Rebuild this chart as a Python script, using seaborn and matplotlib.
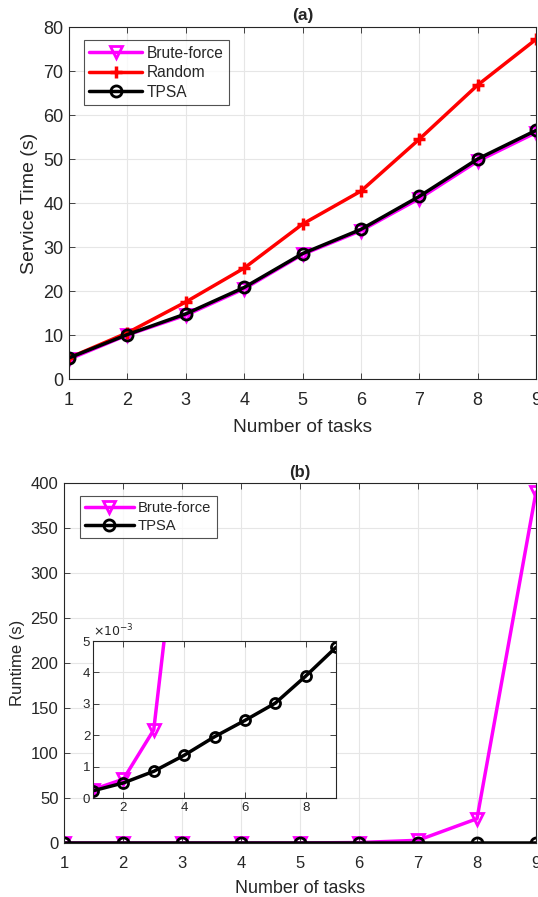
import numpy as np
import pandas as pd
import matplotlib
matplotlib.use("Agg")
import matplotlib.pyplot as plt
import seaborn as sns

tasks = [1, 2, 3, 4, 5, 6, 7, 8, 9]
svc_brute = [4.5, 10.0, 14.5, 20.5, 28.3, 33.7, 41.0, 49.5, 56.0]
svc_random = [4.8, 10.5, 17.5, 25.2, 35.2, 42.7, 54.5, 66.8, 77.2]
svc_tpsa = [4.8, 10.1, 14.8, 20.8, 28.5, 34.0, 41.5, 50.0, 56.5]

rt_brute = [0.00027, 0.0006, 0.00217, 0.0105, 0.06, 0.5, 3.0, 27.0, 390.0]
rt_tpsa = [0.00023, 0.00048, 0.00085, 0.00136, 0.00195, 0.00247, 0.00302, 0.00388, 0.0048]

sns.set_theme(style="whitegrid")
plt.rcParams['font.family'] = ['Liberation Sans', 'DejaVu Sans']
plt.rcParams['xtick.direction'] = 'in'
plt.rcParams['ytick.direction'] = 'in'

MAG = '#ff00ff'
RED = '#ff0000'
BLK = '#000000'

fig = plt.figure(figsize=(5.38, 8.97), dpi=100)
W, H = 538, 897
ax1 = fig.add_axes([69 / W, 1 - 379 / H, (536 - 69) / W, (379 - 27) / H])
ax2 = fig.add_axes([64 / W, 1 - 843 / H, (536 - 64) / W, (843 - 483) / H])
ax3 = fig.add_axes([93 / W, 1 - 798 / H, (336 - 93) / W, (798 - 641) / H])

def style(ax, fs=11, xpad=4):
    ax.set_facecolor('white')
    ax.grid(True, color='#e6e6e6', linewidth=0.8)
    for s in ax.spines.values():
        s.set_color('#262626')
        s.set_linewidth(0.8)
        s.set_visible(True)
    ax.tick_params(axis='both', which='both', direction='in', length=4, width=0.6,
                   colors='#262626', labelsize=fs, top=True, right=True,
                   bottom=True, left=True, labeltop=False, labelright=False, pad=4)
    ax.tick_params(axis='x', pad=xpad)

df1 = pd.DataFrame({
    'tasks': tasks * 3,
    'val': svc_brute + svc_random + svc_tpsa,
    'method': ['Brute-force'] * 9 + ['Random'] * 9 + ['TPSA'] * 9,
})

for m in ['Brute-force', 'Random', 'TPSA']:
    d = df1[df1.method == m]
    if m == 'Random':
        sns.lineplot(data=d, x='tasks', y='val', ax=ax1, color=RED, linewidth=2.5,
                     marker='+', markersize=8, markeredgewidth=2.5, markeredgecolor=RED,
                     label=m)
    elif m == 'Brute-force':
        sns.lineplot(data=d, x='tasks', y='val', ax=ax1, color=MAG, linewidth=2.5,
                     marker='v', markersize=9, markeredgewidth=2, markerfacecolor='none',
                     markeredgecolor=MAG, label=m)
    else:
        sns.lineplot(data=d, x='tasks', y='val', ax=ax1, color=BLK, linewidth=2.5,
                     marker='o', markersize=8, markeredgewidth=2, markerfacecolor='none',
                     markeredgecolor=BLK, label=m)

ax1.set_xlim(1, 9)
ax1.set_ylim(0, 80)
ax1.set_xticks(range(1, 10))
ax1.set_yticks(range(0, 81, 10))
ax1.set_xlabel('Number of tasks', fontsize=13.8, color='#262626', labelpad=7)
ax1.set_ylabel('Service Time (s)', fontsize=14, color='#262626', labelpad=4)
ax1.set_title('(a)', fontsize=12.5, fontweight='bold', pad=5)
style(ax1, fs=13, xpad=9.5)
leg = ax1.legend(loc='upper left', bbox_to_anchor=(0.015, 0.985), fontsize=11.2,
                 frameon=True, fancybox=False, edgecolor='#262626', handlelength=3.4,
                 borderpad=0.35, labelspacing=0.3, handletextpad=0.3)
leg.get_frame().set_linewidth(0.8)

df2 = pd.DataFrame({
    'tasks': tasks * 2,
    'val': rt_brute + rt_tpsa,
    'method': ['Brute-force'] * 9 + ['TPSA'] * 9,
})
for ax, ms in [(ax2, 1.0), (ax3, 0.9)]:
    d = df2[df2.method == 'Brute-force']
    sns.lineplot(data=d, x='tasks', y='val', ax=ax, color=MAG, linewidth=2.5,
                 marker='v', markersize=9 * ms, markeredgewidth=2, markerfacecolor='none',
                 markeredgecolor=MAG, label='Brute-force')
    d = df2[df2.method == 'TPSA']
    sns.lineplot(data=d, x='tasks', y='val', ax=ax, color=BLK, linewidth=2.5,
                 marker='o', markersize=8 * ms, markeredgewidth=2, markerfacecolor='none',
                 markeredgecolor=BLK, label='TPSA')

ax2.set_xlim(1, 9)
ax2.set_ylim(0, 400)
ax2.set_xticks(range(1, 10))
ax2.set_yticks(range(0, 401, 50))
ax2.set_xlabel('Number of tasks', fontsize=12.9, color='#262626', labelpad=7)
ax2.set_ylabel('Runtime (s)', fontsize=12, color='#262626', labelpad=4)
ax2.set_title('(b)', fontsize=12, fontweight='bold', pad=4)
style(ax2, fs=12, xpad=9)
leg2 = ax2.legend(loc='upper left', bbox_to_anchor=(0.018, 0.985), fontsize=10.6,
                  frameon=True, fancybox=False, edgecolor='#262626', handlelength=3.3,
                  borderpad=0.35, labelspacing=0.3, handletextpad=0.3)
leg2.get_frame().set_linewidth(0.8)

ax3.set_xlim(1, 9)
ax3.set_ylim(0, 0.005)
ax3.set_xticks([2, 4, 6, 8])
ax3.set_yticks([0, 0.001, 0.002, 0.003, 0.004, 0.005])
ax3.set_yticklabels(['0', '1', '2', '3', '4', '5'])
ax3.set_xlabel('')
ax3.set_ylabel('')
style(ax3, fs=9.5, xpad=3)
ax3.tick_params(axis='y', pad=2)
if ax3.get_legend() is not None:
    ax3.get_legend().remove()
ax3.text(0.0, 1.01, r'$\times10^{-3}$', transform=ax3.transAxes, fontsize=9,
         color='#262626', ha='left', va='bottom')

fig.savefig('out.png', dpi=100)
